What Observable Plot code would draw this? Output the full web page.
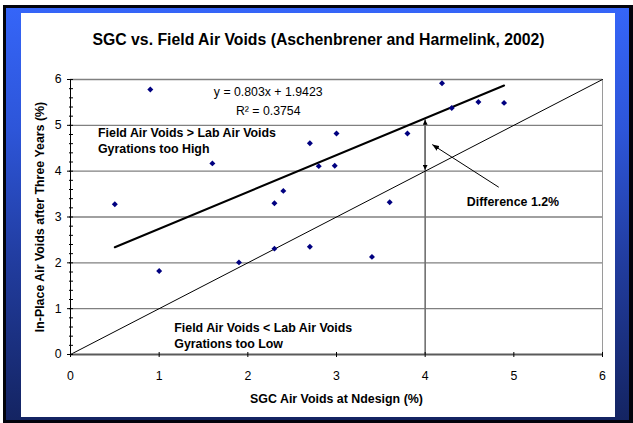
<!DOCTYPE html>
<html>
<head>
<meta charset="utf-8">
<script src="https://cdn.jsdelivr.net/npm/d3@7"></script>
<script src="https://cdn.jsdelivr.net/npm/@observablehq/plot@0.6"></script>
<style>
html, body { margin: 0; padding: 0; background: #fff; }
#wrap { position: relative; width: 633px; height: 423px; overflow: hidden; }
#black { position: absolute; left: 3px; top: 5px; width: 630px; height: 418px; background: #02040c; }
#grad { position: absolute; left: 6px; top: 8px; width: 623px; height: 412px;
  background: linear-gradient(to bottom, #3565f8 0%, #2d55d8 30%, #213c9e 62%, #142462 100%); }
#panel { position: absolute; left: 21px; top: 13px; width: 594px; height: 404px; background: #fff; }
#chart { position: absolute; left: 0; top: 0; }
</style>
</head>
<body>
<div id="wrap"><div id="black"></div><div id="grad"></div><div id="panel"></div><div id="chart"></div></div>
<script>
// ---- data ----
const sgcVoids   = [0.5, 0.9, 1.0, 1.6, 1.9, 2.3, 2.3, 2.4, 2.7, 2.7, 2.8, 2.98, 3.0, 3.4, 3.6, 3.8, 4.19, 4.3, 4.6, 4.89];
const fieldVoids = [3.28, 5.78, 1.82, 4.17, 2.01, 3.30, 2.31, 3.57, 4.61, 2.35, 4.11, 4.12, 4.82, 2.13, 3.32, 4.82, 5.92, 5.38, 5.51, 5.49];

const trendX = [0.5, 4.89];
const trendY = [2.34, 5.87];
const equalityX = [0, 6];
const equalityY = [0, 6];

const diffX = [4, 4];
const diffY = [4.03, 5.12];          // lower / upper arrow tips
const calloutX = [4.83, 4.08];       // tail / tip
const calloutY = [3.65, 4.58];

const xTicks = [0, 1, 2, 3, 4, 5, 6];
const yTicks = [0, 1, 2, 3, 4, 5, 6];
const gridY  = [1, 2, 3, 4, 5, 6];
const yMinor = d3.range(0, 31).map(i => i / 5);

const title  = "SGC vs. Field Air Voids (Aschenbrener and Harmelink, 2002)";
const xLabel = "SGC Air Voids at Ndesign (%)";
const yLabel = "In-Place Air Voids after Three Years (%)";

const eqText = ["y = 0.803x + 1.9423", "R² = 0.3754"];
const eqX = [2.23, 2.23];
const eqY = [5.72, 5.31];

const noteText = ["Field Air Voids > Lab Air Voids", "Gyrations too High",
                  "Field Air Voids < Lab Air Voids", "Gyrations too Low", "Difference 1.2%"];
const noteX = [0.31, 0.31, 1.17, 1.17, 4.47];
const noteY = [4.83, 4.48, 0.57, 0.22, 3.32];

// ---- filled triangle marker ----
const tri = (len, half) => (color, context) => {
  const m = d3.select(context.document.createElementNS("http://www.w3.org/2000/svg", "marker"))
    .attr("viewBox", `${-len} ${-half} ${len} ${2 * half}`)
    .attr("markerWidth", len)
    .attr("markerHeight", 2 * half)
    .attr("markerUnits", "userSpaceOnUse")
    .attr("refX", 0).attr("refY", 0)
    .attr("orient", "auto-start-reverse");
  m.append("path").attr("d", `M${-len},${-half}L0,0L${-len},${half}Z`).attr("fill", "#000").attr("stroke", "none");
  return m.node();
};

const font = "'Liberation Sans', Arial, Helvetica, sans-serif";

const chart = Plot.plot({
  width: 633,
  height: 423,
  marginLeft: 70,
  marginRight: 31,
  marginTop: 79,
  marginBottom: 69,
  style: { background: "transparent", fontFamily: font, fontSize: "12px", color: "#000", overflow: "visible" },
  x: { domain: [0, 6] },
  y: { domain: [0, 6] },
  marks: [
    Plot.ruleY(gridY, { stroke: "#808080", strokeWidth: 1.3 }),
    Plot.ruleX([6], { stroke: "#9a9a9a", strokeWidth: 1 }),
    Plot.ruleX([diffX[0]], { y1: 0, y2: diffY[1], stroke: "#707070", strokeWidth: 1.6 }),
    Plot.line(equalityX, { x: d => d, y: (d, i) => equalityY[i], stroke: "#000", strokeWidth: 1 }),
    Plot.line(trendX, { x: d => d, y: (d, i) => trendY[i], stroke: "#000", strokeWidth: 2 }),
    Plot.link([0], { x1: diffX[0], y1: diffY[0], x2: diffX[1], y2: diffY[1], stroke: "#707070", strokeWidth: 1.6,
      markerStart: tri(5, 2.5), markerEnd: tri(5, 2.5) }),
    Plot.link([0], { x1: calloutX[0], y1: calloutY[0], x2: calloutX[1], y2: calloutY[1], stroke: "#000", strokeWidth: 1,
      markerEnd: tri(7, 2.8) }),
    Plot.dot(sgcVoids, { x: d => d, y: (d, i) => fieldVoids[i], symbol: "diamond2", r: 2.7, fill: "#000080", stroke: "none" }),
    Plot.ruleY([0], { stroke: "#5a5a5a", strokeWidth: 2 }),
    Plot.ruleX([0], { stroke: "#000", strokeWidth: 1 }),
    Plot.axisX(xTicks, { tickSize: 5, dy: -2, tickPadding: 14, fontSize: 12.3, label: null, tickFormat: d => d }),
    Plot.axisY(yTicks, { tickSize: 4, dx: 1, tickPadding: 6, fontSize: 12.3, label: null, tickFormat: d => d }),
    Plot.axisY(yMinor, { tickSize: 4, dx: 3, label: null, tickFormat: () => "" }),
    Plot.text(eqText, { x: (d, i) => eqX[i], y: (d, i) => eqY[i], text: d => d, fontSize: 12.3, fill: "#000", textAnchor: "middle" }),
    Plot.text(noteText, { x: (d, i) => noteX[i], y: (d, i) => noteY[i], text: d => d, fontSize: 12.4, fontWeight: "bold", fill: "#000", textAnchor: "start" }),
    Plot.text([title], { text: d => d, frameAnchor: "top", dx: -18, dy: -40, lineAnchor: "middle", fontSize: 15.8, fontWeight: "bold", fill: "#000" }),
    Plot.text([xLabel], { text: d => d, frameAnchor: "bottom", dy: 45, lineAnchor: "middle", fontSize: 12.4, fontWeight: "bold", fill: "#000" }),
    Plot.text([yLabel], { text: d => d, frameAnchor: "left", dx: -30, rotate: -90, textAnchor: "middle", lineAnchor: "middle", fontSize: 12.4, fontWeight: "bold", fill: "#000" })
  ]
});
document.getElementById("chart").appendChild(chart);
</script>
</body>
</html>
